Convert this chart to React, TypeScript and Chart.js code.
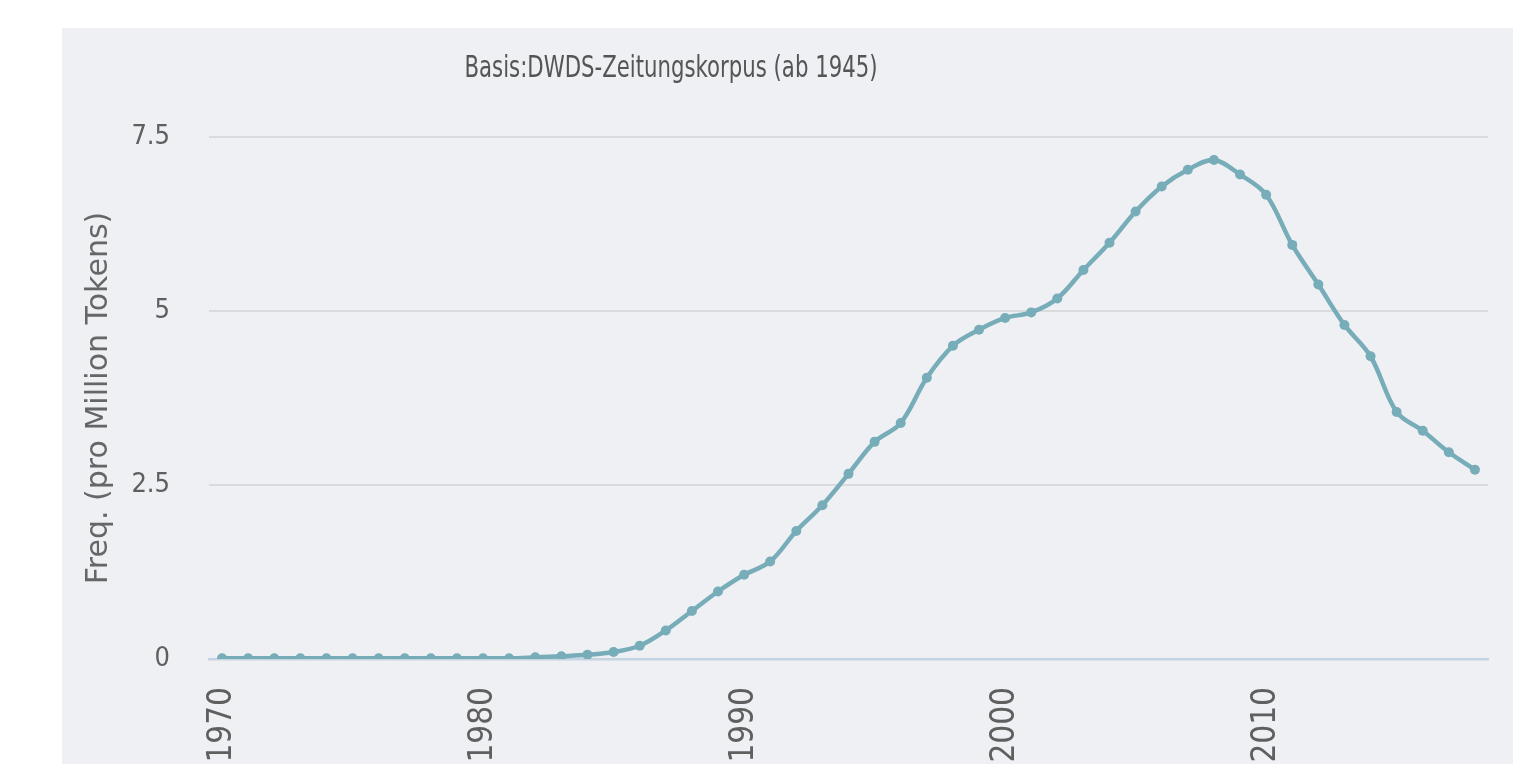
import React, { useEffect, useRef } from "react";
import { Chart, registerables } from "chart.js";

Chart.register(...registerables);

const years: string[] = [];
for (let y = 1970; y <= 2018; y++) years.push(String(y));

const freq: number[] = [
  0.01, 0.01, 0.01, 0.01, 0.01, 0.01, 0.01, 0.01, 0.01, 0.01,
  0.01, 0.01, 0.024, 0.04, 0.06, 0.10, 0.19, 0.41, 0.69, 0.97,
  1.21, 1.40, 1.84, 2.21, 2.66, 3.12, 3.39, 4.04, 4.50, 4.73,
  4.90, 4.98, 5.18, 5.59, 5.98, 6.43, 6.79, 7.03, 7.17, 6.96,
  6.67, 5.95, 5.38, 4.80, 4.35, 3.55, 3.28, 2.97, 2.72,
];

const yTicks: number[] = [0, 2.5, 5, 7.5];

const titleText = "Basis:DWDS-Zeitungskorpus (ab 1945)";
const yTitle = "Freq. (pro Million Tokens)";

const LINE = "#77acb9";
const W = 1521;
const H = 800;

export default function App() {
  const ref = useRef<HTMLCanvasElement>(null);

  useEffect(() => {
    if (!ref.current) return;
    const bgPlugin = {
      id: "panelBg",
      beforeDraw(chart: any) {
        const c = chart.ctx;
        c.save();
        c.fillStyle = "#ffffff";
        c.fillRect(0, 0, chart.width, chart.height);
        c.fillStyle = "#eff0f4";
        c.fillRect(62, 28, 1451, chart.height - 28);
        c.restore();
      },
      afterDraw(chart: any) {
        const c = chart.ctx;
        c.save();
        c.font = '30px "Liberation Sans Narrow", "DejaVu Sans Condensed", sans-serif';
        c.fillStyle = "#555555";
        c.textAlign = "center";
        c.textBaseline = "alphabetic";
        const w = c.measureText(titleText).width;
        const sx = Math.min(1, 413 / w);
        c.translate(671, 77);
        c.scale(sx, 1);
        c.fillText(titleText, 0, 0);
        c.restore();
      },
    };

    const chart = new Chart(ref.current, {
      type: "line",
      data: {
        labels: years,
        datasets: [
          {
            data: freq,
            borderColor: LINE,
            backgroundColor: LINE,
            borderWidth: 4.5,
            pointRadius: 5,
            pointBorderWidth: 0,
            pointBackgroundColor: LINE,
            tension: 0.35,
            fill: false,
          },
        ],
      },
      options: {
        animation: false,
        responsive: false,
        layout: { padding: { top: 137, right: 33, left: 0, bottom: 0 } },
        plugins: {
          legend: { display: false },
          title: { display: false },
          tooltip: { enabled: false },
        },
        scales: {
          x: {
            type: "category",
            offset: true,
            grid: { display: false, drawTicks: false },
            border: { display: true, color: "#c5d3e3", width: 2.5 },
            ticks: {
              autoSkip: false,
              maxRotation: 90,
              minRotation: 90,
              padding: 28,
              color: "#5f5f5f",
              font: { family: '"DejaVu Sans Condensed", "DejaVu Sans", sans-serif', size: 33 },
              callback: (_v: any, i: number) => {
                const y = Number(years[i]);
                return y % 10 === 0 ? years[i] : null;
              },
            },
            afterFit: (s: any) => {
              s.height = H - 659;
            },
          },
          y: {
            min: 0,
            max: 7.5,
            afterBuildTicks: (s: any) => {
              s.ticks = yTicks.map((v) => ({ value: v }));
            },
            grid: {
              drawTicks: false,
              lineWidth: 2,
              color: (ctx: any) => (ctx.tick && ctx.tick.value === 0 ? "rgba(0,0,0,0)" : "#dadbdd"),
            },
            border: { display: false },
            ticks: {
              padding: 39,
              color: "#5f5f5f",
              font: { family: '"DejaVu Sans Condensed", "DejaVu Sans", sans-serif', size: 27 },
            },
            title: {
              display: true,
              text: yTitle,
              color: "#666666",
              padding: { top: 81, bottom: 0 },
              font: { family: '"DejaVu Sans", sans-serif', size: 30 },
            },
            afterFit: (s: any) => {
              s.width = 209;
            },
          },
        },
      },
      plugins: [bgPlugin],
    });
    return () => chart.destroy();
  }, []);

  return (
    <div
      style={{
        position: "fixed",
        left: 0,
        top: 0,
        width: W,
        height: 764,
        overflow: "hidden",
        background: "#ffffff",
      }}
    >
      <canvas ref={ref} width={W} height={H} style={{ width: W, height: H, display: "block" }} />
    </div>
  );
}
